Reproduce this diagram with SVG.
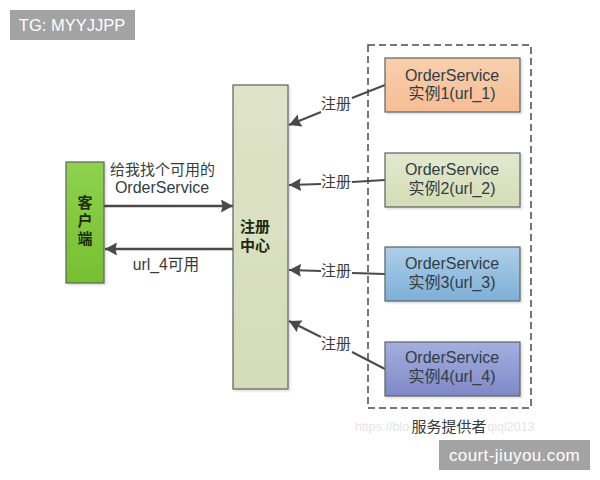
<svg xmlns="http://www.w3.org/2000/svg" width="600" height="480" viewBox="0 0 600 480">
<style>
text{font-family:"Liberation Sans","Noto Sans CJK SC",sans-serif;fill:#3a3a3a;font-size:15px;text-anchor:middle}
.b{font-family:"Noto Sans CJK SC",sans-serif;font-weight:700;fill:#1c2a10}
.n{font-size:16px;fill:#333c44}
.box{stroke:#5c6460;stroke-width:1.2;filter:url(#s)}
.c{stroke:#4a4a4a;fill:none}
.tag{fill:#a3a3a3}
.tagt{fill:#fff;font-size:17px;font-family:"Liberation Sans",sans-serif}
.wm{fill:#e4e4e4;font-size:12.500px}
</style>
<defs>
<filter id="s" x="-10%" y="-10%" width="125%" height="125%"><feDropShadow dx="1.500" dy="1.500" stdDeviation="1.200" flood-color="#000" flood-opacity=".15"/></filter>
<linearGradient id="g0" x1="0" y1="0" x2="0" y2="1"><stop offset="0" stop-color="#8ed24e"/><stop offset="1" stop-color="#76bf30"/></linearGradient>
<linearGradient id="g1" x1="0" y1="0" x2="0" y2="1"><stop offset="0" stop-color="#dfe3c8"/><stop offset="1" stop-color="#d4dcb8"/></linearGradient>
<linearGradient id="g2" x1="0" y1="0" x2="0" y2="1"><stop offset="0" stop-color="#f8d0ae"/><stop offset="1" stop-color="#f5bd95"/></linearGradient>
<linearGradient id="g3" x1="0" y1="0" x2="0" y2="1"><stop offset="0" stop-color="#e3e9cf"/><stop offset="1" stop-color="#d3dcb5"/></linearGradient>
<linearGradient id="g4" x1="0" y1="0" x2="0" y2="1"><stop offset="0" stop-color="#acd0e8"/><stop offset="1" stop-color="#7eaed8"/></linearGradient>
<linearGradient id="g5" x1="0" y1="0" x2="0" y2="1"><stop offset="0" stop-color="#a2b0de"/><stop offset="1" stop-color="#8088c8"/></linearGradient>
<marker id="a" markerUnits="userSpaceOnUse" markerWidth="14" markerHeight="14" refX="12" refY="6.500" orient="auto"><path d="M0 0L12 6.500L0 13L1.500 6.500Z" fill="#4a4a4a"/></marker>
</defs>
<rect width="600" height="480" fill="#fff"/>
<g id="connectors">
<line class="c" stroke-width="2.500" x1="104" y1="206" x2="233" y2="206" marker-end="url(#a)"/>
<line class="c" stroke-width="2.500" x1="233" y1="249" x2="105" y2="249" marker-end="url(#a)"/>
<path class="c" stroke-width="2" d="M385 85L352 98M321 112L289 125" marker-end="url(#a)"/>
<path class="c" stroke-width="2" d="M385 180L352 182M321 184L289 185" marker-end="url(#a)"/>
<path class="c" stroke-width="2" d="M385 274L352 273M321 271L289 270" marker-end="url(#a)"/>
<path class="c" stroke-width="2" d="M385 369L352 352M321 337L289 321" marker-end="url(#a)"/>
<text x="162.500" y="175" font-size="15">给我找个可用的</text>
<text class="n" x="162" y="192.500">OrderService</text>
<text x="166" y="270" style="font-size:15.700px">url_4可用</text>
<text x="336" y="109">注册</text>
<text x="336" y="187">注册</text>
<text x="336" y="276">注册</text>
<text x="336" y="349">注册</text>
</g>
<g id="providers"><rect x="368" y="45" width="163" height="363" fill="none" stroke="#4a4a4a" stroke-width="1.500" stroke-dasharray="7 4"/>
<text class="wm" x="382" y="431">https://blo</text><text class="wm" x="511" y="431">qiql2013</text>
<text x="449" y="432">服务提供者</text></g>
<g id="client"><rect class="box" x="66" y="162" width="38" height="121" fill="url(#g0)"/>
<text class="b" x="85" y="222" style="writing-mode:vertical-rl;letter-spacing:3px">客户端</text></g>
<g id="registry"><rect class="box" x="233" y="85" width="55" height="304" fill="url(#g1)"/>
<text class="b"><tspan x="255" y="232">注册</tspan><tspan x="255" y="251">中心</tspan></text></g>
<g id="instance1"><rect class="box" x="385" y="58" width="135" height="54" fill="url(#g2)"/><text class="n" x="452" y="81">OrderService</text><text class="n" x="452" y="99">实例1(url_1)</text></g>
<g id="instance2"><rect class="box" x="385" y="153" width="135" height="54" fill="url(#g3)"/><text class="n" x="452" y="175">OrderService</text><text class="n" x="452" y="193.500">实例2(url_2)</text></g>
<g id="instance3"><rect class="box" x="385" y="247" width="135" height="54" fill="url(#g4)"/><text class="n" x="452" y="269">OrderService</text><text class="n" x="452" y="288">实例3(url_3)</text></g>
<g id="instance4"><rect class="box" x="385" y="342" width="135" height="54" fill="url(#g5)"/><text class="n" x="452" y="363">OrderService</text><text class="n" x="452" y="382">实例4(url_4)</text></g>
<g id="tag-top"><rect class="tag" x="10" y="10" width="125" height="30"/><text class="tagt" x="72" y="31" style="font-size:16.500px">TG: MYYJJPP</text></g>
<g id="tag-bottom"><rect class="tag" x="439" y="440" width="151" height="30"/><text class="tagt" x="514.500" y="461" style="letter-spacing:.4px">court-jiuyou.com</text></g>
</svg>
